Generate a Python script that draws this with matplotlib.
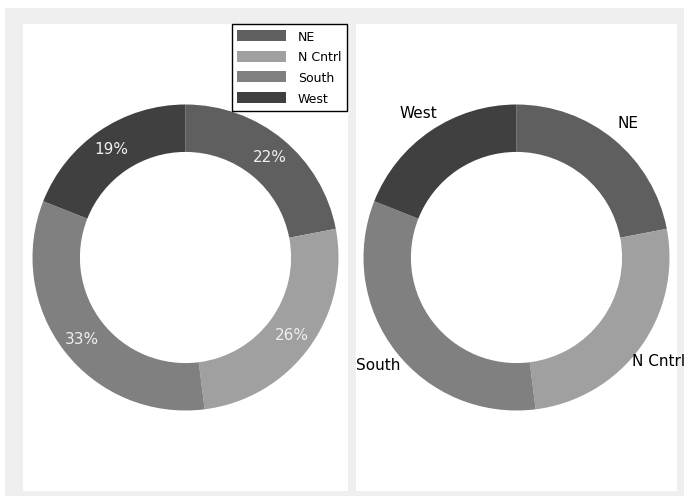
import matplotlib.pyplot as plt
from matplotlib.patches import Rectangle

# Data wilayah
wilayah = ['NE', 'N Cntrl', 'South', 'West']
porsi = [22, 26, 33, 19]
warna = ['#5f5f5f', '#a0a0a0', '#808080', '#404040']

W, H = 684, 502
fig = plt.figure(figsize=(W / 100, H / 100), dpi=100, facecolor='white')

# latar abu-abu
fig.add_artist(Rectangle((5 / W, 1 - 497 / H), 1, (497 - 9) / H,
                         transform=fig.transFigure, facecolor='#efefef',
                         edgecolor='none', zorder=-10))


def panel(x0, x1, y0=25, y1=492):
    return fig.add_axes([x0 / W, 1 - y1 / H, (x1 - x0) / W, (y1 - y0) / H])


def set_lim(ax, x0, x1, y0=25, y1=492, r=153):
    hx = (x1 - x0) / 2 / r
    hy = (y1 - y0) / 2 / r
    ax.set_aspect('auto')
    ax.set_xlim(-hx, hx)
    ax.set_ylim(-hy, hy)
    ax.set_frame_on(True)
    ax.set_facecolor('white')
    for s in ax.spines.values():
        s.set_visible(False)


# Donut kiri dengan persentase
ax1 = panel(23, 348)
wedges, _, autotexts = ax1.pie(porsi, colors=warna, startangle=90, counterclock=False,
                               autopct='%1.0f%%', pctdistance=0.86,
                               wedgeprops=dict(width=0.31, edgecolor='none'),
                               textprops=dict(color='#f0f0f0', fontsize=11))
set_lim(ax1, 23, 348)
ax1.legend(wedges, wilayah, loc='upper right', bbox_to_anchor=(1 - 1 / 325, 1),
           borderaxespad=0, fontsize=9, handlelength=3.9, handleheight=0.96,
           labelspacing=0.62, handletextpad=0.95, borderpad=0.45,
           fancybox=False, edgecolor='black', framealpha=1)

# Donut kanan dengan label
ax2 = panel(356, 677)
_, teks = ax2.pie(porsi, labels=wilayah, colors=warna, startangle=90, counterclock=False,
                  labeldistance=1.144, wedgeprops=dict(width=0.31, edgecolor='none'),
                  textprops=dict(color='black', fontsize=11))
for t in teks:
    t.set_ha('center')
set_lim(ax2, 356, 677)

fig.savefig('out.png', dpi=100, facecolor='white')
